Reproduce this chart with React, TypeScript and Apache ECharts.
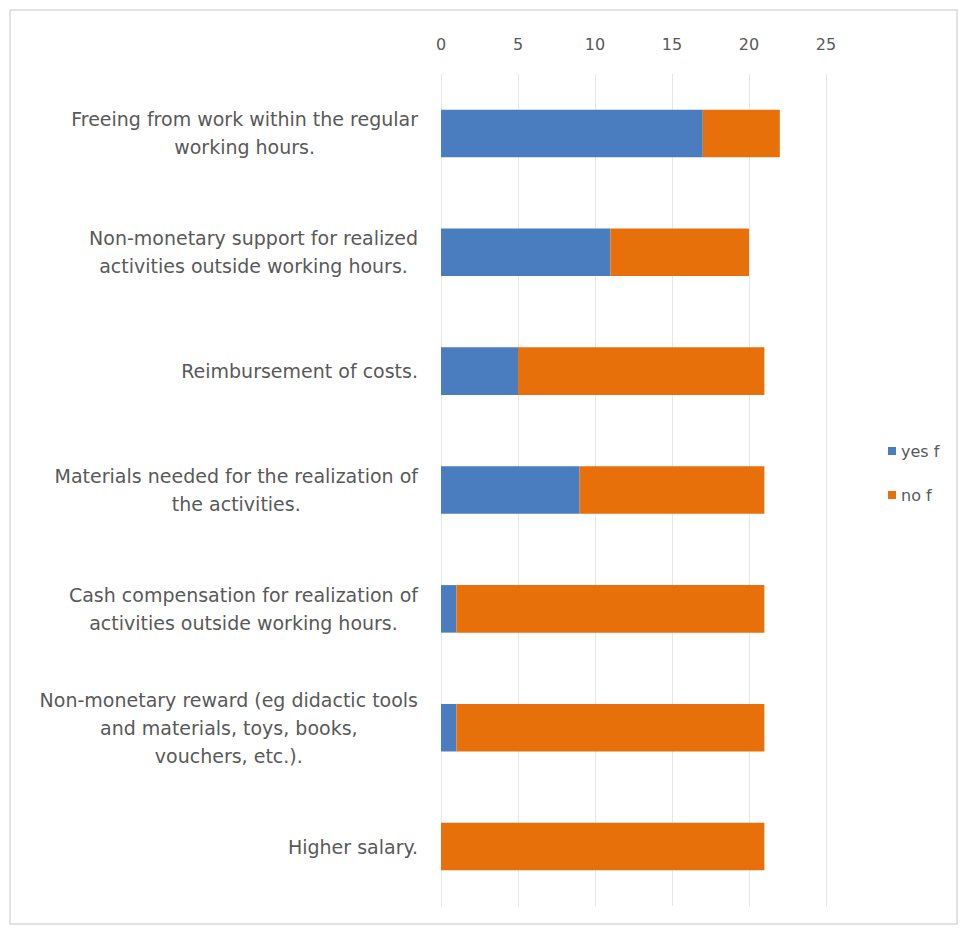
import React, { useEffect, useRef } from "react";
import * as echarts from "echarts";

const categories = [
  "Freeing from work within the regular\nworking hours.",
  "Non-monetary support for realized\nactivities outside working hours.",
  "Reimbursement of costs.",
  "Materials needed for the realization of\nthe activities.",
  "Cash compensation for realization of\nactivities outside working hours.",
  "Non-monetary reward (eg didactic tools\nand materials, toys, books,\nvouchers, etc.).",
  "Higher salary.",
];
const yesValues = [17, 11, 5, 9, 1, 1, 0];
const noValues = [5, 9, 16, 12, 20, 20, 21];
const seriesNames = ["yes f", "no f"];

export default function App() {
  const ref = useRef<HTMLDivElement>(null);
  useEffect(() => {
    const chart = echarts.init(ref.current!, null, { renderer: "svg" });
    const font = "'DejaVu Sans', sans-serif";
    chart.setOption({
      animation: false,
      backgroundColor: "#ffffff",
      textStyle: { fontFamily: font },
      graphic: [
        {
          type: "rect",
          shape: { x: 10, y: 10, width: 947, height: 914 },
          style: { fill: "none", stroke: "#d9d9d9", lineWidth: 1.5 },
          silent: true,
        },
      ],
      legend: {
        orient: "vertical",
        left: 883,
        top: 438,
        itemWidth: 8,
        itemHeight: 8,
        itemGap: 28,
        icon: "rect",
        textStyle: { color: "#595959", fontSize: 16, fontFamily: font },
        data: seriesNames,
      },
      grid: { left: 441, right: 134, top: 74, bottom: 22, containLabel: false },
      xAxis: {
        type: "value",
        position: "top",
        min: 0,
        max: 25,
        interval: 5,
        axisLine: { show: false },
        axisTick: { show: false },
        splitLine: { lineStyle: { color: "#e6e6e6", width: 1 } },
        axisLabel: { color: "#595959", fontSize: 16, margin: 22, fontFamily: font },
      },
      yAxis: {
        type: "category",
        inverse: true,
        data: categories,
        axisLine: { show: false },
        axisTick: { show: false },
        axisLabel: {
          margin: 23,
          color: "#595959",
          fontSize: 19,
          lineHeight: 28,
          fontFamily: font,
          formatter: (v: string) =>
            v
              .split("\n")
              .map((l) => "{c|" + l + "}")
              .join("\n"),
          rich: {
            c: {
              align: "center",
              color: "#595959",
              fontSize: 19,
              lineHeight: 28,
              fontFamily: font,
            },
          },
        },
      },
      series: [
        {
          name: seriesNames[0],
          type: "bar",
          stack: "total",
          data: yesValues,
          barWidth: "40%",
          itemStyle: { color: "#4a7dc0" },
        },
        {
          name: seriesNames[1],
          type: "bar",
          stack: "total",
          data: noValues,
          barWidth: "40%",
          itemStyle: { color: "#e8700a" },
        },
      ],
    });
    return () => chart.dispose();
  }, []);
  return (
    <div
      ref={ref}
      style={{ position: "fixed", left: 0, top: 0, width: 960, height: 928 }}
    />
  );
}
